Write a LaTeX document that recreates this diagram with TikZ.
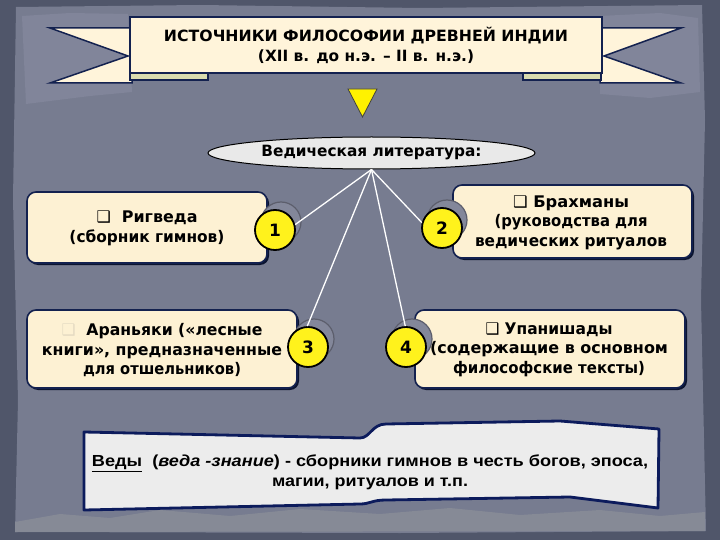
\documentclass[tikz,border=0pt]{standalone}
\usepackage{fontspec}
\usepackage{graphicx}
\setmainfont{DejaVu Sans}
\newfontfamily\arialfam{Liberation Sans}
\usetikzlibrary{shapes.geometric}
\definecolor{bgdark}{HTML}{50566A}
\definecolor{bgmain}{HTML}{777C90}
\definecolor{bglight}{HTML}{81859A}
\definecolor{cream}{HTML}{FDF1D3}
\definecolor{bannerfill}{HTML}{FFF4DA}
\definecolor{stripfill}{HTML}{D9DBAE}
\definecolor{navy}{HTML}{13214F}
\definecolor{scrollfill}{HTML}{ECECEC}
\definecolor{scrollline}{HTML}{0C1B5C}
\definecolor{ellfill}{HTML}{E9E9E9}
\definecolor{numyellow}{HTML}{FFF21C}
\definecolor{shadowgray}{HTML}{83879A}
\definecolor{mount}{HTML}{868A96}
\newcommand{\fitw}[2]{\resizebox{#1pt}{\height}{#2}}
\newcommand{\qbox}{{\mdseries ❑}}
\begin{document}
\begin{tikzpicture}[x=1pt,y=-1pt,
  box/.style={draw=navy, line width=1.6pt, fill=cream, rounded corners=9pt, inner sep=0pt},
  boxsh/.style={fill=navy!60!black, rounded corners=9pt, inner sep=0pt},
  btxt/.style={font=\bfseries\fontsize{16}{19.5}\selectfont, align=center, inner sep=0pt},
  num/.style={circle, draw=black, line width=1.8pt, fill=numyellow, minimum size=40pt, inner sep=0pt, font=\bfseries\fontsize{17}{17}\selectfont},
  numsh/.style={circle, draw=black!30!shadowgray, line width=1.2pt, fill=shadowgray, minimum size=40pt, inner sep=0pt},
  link/.style={draw=white, line width=1.3pt}
]
\useasboundingbox (0,0) rectangle (720,540);
% background
\fill[bgdark] (0,0) rectangle (720,540);
\fill[bgmain] (16,7) -- (200,5) -- (420,8) -- (702,5) -- (705,120) -- (701,300) -- (706,531) -- (400,533) -- (15,532) -- (18,400) -- (13,200) -- cycle;
\fill[bglight] (22,16) -- (70,13) -- (128,14) -- (132,92) -- (90,96) -- (26,104) -- cycle;
\fill[bglight] (600,16) -- (660,13) -- (698,18) -- (700,92) -- (650,98) -- (600,94) -- cycle;
\fill[mount] (15,522) -- (60,514) -- (110,518) -- (160,510) -- (230,516) -- (300,509) -- (380,514) -- (450,508) -- (520,515) -- (600,510) -- (660,516) -- (705,512) -- (705,531) -- (15,532) -- cycle;

% banner
\filldraw[fill=bannerfill, draw=navy, line width=1.5pt] (50,28) -- (132,28) -- (132,83) -- (50,83) -- (128,56) -- cycle;
\filldraw[fill=bannerfill, draw=navy, line width=1.5pt] (681,28) -- (600,28) -- (600,83) -- (681,83) -- (604,56) -- cycle;
\filldraw[fill=stripfill, draw=navy, line width=1.2pt] (130,70) rectangle (208,80);
\filldraw[fill=stripfill, draw=navy, line width=1.2pt] (523,70) rectangle (601,80);
\node[draw=navy, fill=bannerfill, line width=1.5pt, minimum width=472pt, minimum height=56pt, inner sep=0pt] (banner) at (366,45) {};
\node[font=\bfseries\fontsize{15.5}{20}\selectfont, align=center, inner sep=0pt] (title) at (366,45)
  {\fitw{404}{ИСТОЧНИКИ ФИЛОСОФИИ ДРЕВНЕЙ ИНДИИ}\\\fitw{216}{(XII в. до н.э. – II в. н.э.)}};

% yellow triangle
\filldraw[fill=yellow, draw=black!75, line width=0.8pt] (348,89) -- (377,89) -- (362.5,117) -- cycle;

% ellipse
\node[ellipse, draw=black, line width=1pt, fill=ellfill, minimum width=327pt, minimum height=32pt, inner sep=0pt,
  font=\bfseries\fontsize{15.5}{16}\selectfont] (lit) at (371.5,153) {\fitw{220}{Ведическая литература:}};
\coordinate (ap) at (lit.south);

% boxes
\fill[boxsh] (29,194) rectangle (269,265);
\node[box, minimum width=240pt, minimum height=71pt] (b1) at (147,227.5) {};
\fill[boxsh] (29,312) rectangle (299,390);
\node[box, minimum width=270pt, minimum height=78pt] (b3) at (162,349) {};
\fill[boxsh] (455,187) rectangle (694,260);
\node[box, minimum width=239pt, minimum height=73pt] (b2) at (572.5,221.5) {};
\fill[boxsh] (417,312) rectangle (687,390);
\node[box, minimum width=270pt, minimum height=78pt] (b4) at (550,349) {};

\node[btxt] (t1) at (147,228.5) {\fitw{101}{\qbox\ \ Ригведа}\\\fitw{155}{(сборник гимнов)}};
\node[btxt] (t3) at (162,350.5) {\fitw{201}{\textcolor{cream!80!gray}{\qbox}\ \ Араньяки («лесные}\\\fitw{240}{книги», предназначенные}\\\fitw{158}{для отшельников)}};
\node[btxt] (t2) at (571,222.5) {\fitw{116}{\qbox\ Брахманы}\\\fitw{153}{(руководства для}\\\fitw{192}{ведических ритуалов}};
\node[btxt] (t4) at (549,349.5) {\fitw{127}{\qbox\ Упанишады}\\\fitw{238}{(содержащие в основном}\\\fitw{192}{философские тексты)}};

% numbered circles
\node[numsh] (s1) at (281,222) {};
\node[numsh] (s2) at (447,220) {};
\node[numsh] (s3) at (314,339) {};
\node[numsh] (s4) at (412,339) {};
\node[num] (c1) at (275,230) {1};
\node[num] (c2) at (442,228) {2};
\node[num] (c3) at (308,347) {3};
\node[num] (c4) at (406,347) {4};

% links
\draw[link] (ap) -- (c1.15);
\draw[link] (ap) -- (c2.165);
\draw[link] (ap) -- (c3.92);
\draw[link] (ap) -- (c4.92);

% bottom scroll
\filldraw[fill=scrollfill, draw=scrollline, line width=2.8pt, line join=round]
  (84,432) -- (360,438) .. controls (370,438) and (372,424) .. (386,424) -- (560,421) -- (659,429)
  -- (658,508) -- (570,497) -- (386,500) .. controls (372,500) and (370,504) .. (360,504) -- (84,510) -- cycle;
\node[font=\arialfam\bfseries\fontsize{16}{20}\selectfont, align=center, inner sep=0pt] (veda) at (370,472)
  {\fitw{556}{\underline{Веды}\ \ (\textit{веда -знание}) - сборники гимнов в честь богов, эпоса,}\\\fitw{196}{магии, ритуалов и т.п.}};
\end{tikzpicture}
\end{document}
